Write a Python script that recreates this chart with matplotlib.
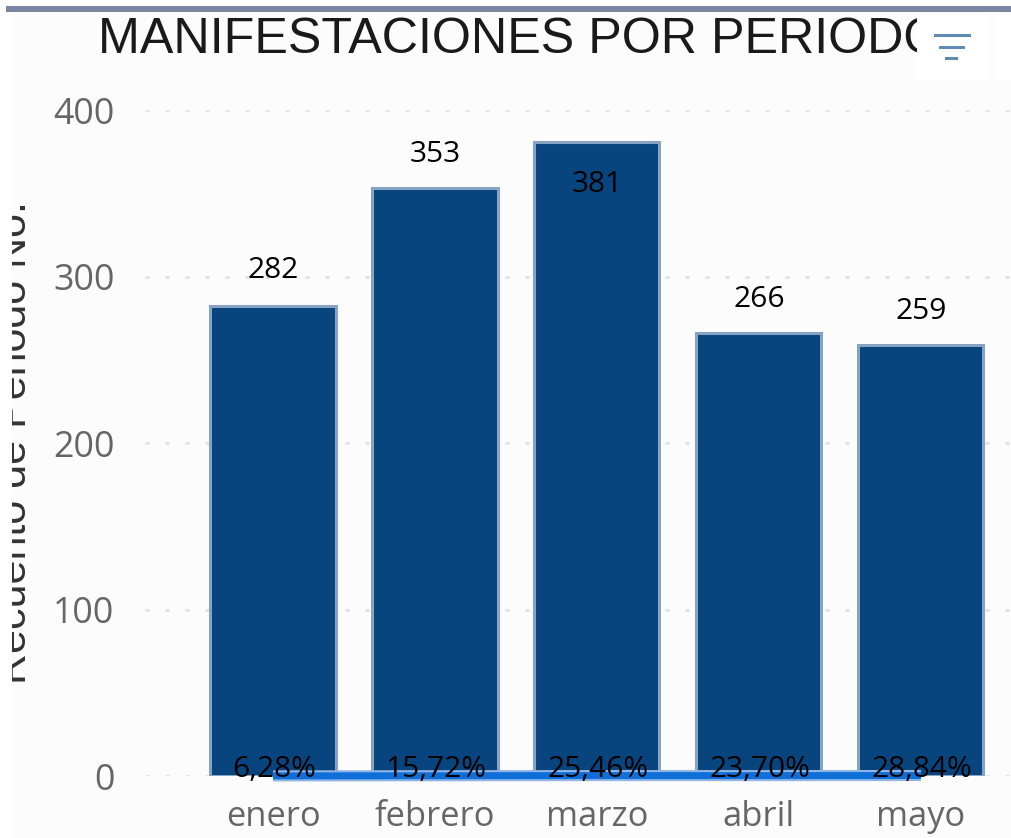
import numpy as np
import matplotlib
matplotlib.use("Agg")
from matplotlib import pyplot as plt
from matplotlib.patches import Rectangle

periodos = ["enero", "febrero", "marzo", "abril", "mayo"]
recuento = [282, 353, 381, 266, 259]
porcentajes = [6.28, 15.72, 25.46, 23.70, 28.84]
porcentaje_labels = ["6,28%", "15,72%", "25,46%", "23,70%", "28,84%"]
yticks = [0, 100, 200, 300, 400]

W, H = 1012, 838
BG = "#fcfcfc"

plt.rcParams['font.family'] = ['Liberation Sans', 'DejaVu Sans']

fig = plt.figure(figsize=(W / 100, H / 100), dpi=100, facecolor="white")

# panel background and top strip
fig.patches.append(Rectangle((12 / W, 0), 1 - 12 / W, 1 - 12 / H, transform=fig.transFigure, color=BG, lw=0, zorder=-5))
fig.patches.append(Rectangle((6 / W, 1 - 12 / H), 1 - 6 / W, 6 / H, transform=fig.transFigure, color="#7a86a3", lw=0, zorder=-4))

ax = fig.add_axes([145 / W, 1 - 776 / H, (W - 145) / W, 666 / H])
ax.patch.set_alpha(0)
x = np.arange(len(periodos))
ax.set_xlim(-0.79, 4.562)
ax.set_ylim(0, 400)

ax.bar(x, recuento, width=0.772, color="#08457e", edgecolor="#86a3c4", linewidth=2.2, zorder=2)
ax.yaxis.grid(True, color="#e2e2e2", linestyle=(0, (1.5, 5.7)), linewidth=2)
ax.set_axisbelow(True)

# porcentaje line sits almost on the baseline, light halo under it
ax.plot(x, np.array(porcentajes) / 100, color="#8fb4e6", linewidth=8, solid_capstyle="butt", zorder=3, clip_on=False)
ax.plot(x, np.array(porcentajes) / 100, color="#0f6fd8", linewidth=5, solid_capstyle="butt", zorder=3, clip_on=False)

for s in ax.spines.values():
    s.set_visible(False)
ax.set_xticks(x, periodos)
ax.set_yticks(yticks)
ax.tick_params(length=0)
ax.tick_params(axis="x", labelsize=24.8, labelcolor="#666666", pad=17)
ax.tick_params(axis="y", labelsize=25.8, labelcolor="#666666", pad=22)
for lab in ax.get_xticklabels() + ax.get_yticklabels():
    lab.set_family(['Open Sans', 'DejaVu Sans'])

offsets = [21, 19, -28, 19, 19]
for xi, v, off in zip(x, recuento, offsets):
    ax.annotate(str(v), (xi, v), xytext=(0, off), textcoords="offset pixels", ha="center", va="bottom" if off > 0 else "top",
                fontsize=21.5, color="black", family=['Open Sans', 'DejaVu Sans'], zorder=5)
for xi, lab in zip(x, porcentaje_labels):
    ax.annotate(lab, (xi, 0), xytext=(1, -8), textcoords="offset pixels", ha="center", va="bottom",
                fontsize=21.5, color="black", family=['Open Sans', 'DejaVu Sans'], zorder=5, annotation_clip=False)

# axis title is cut off by the left edge of the panel
ylab = fig.text(-5 / W, 1 - 443 / H, "Recuento de Periodo No.", rotation=90, ha="left", va="center",
                fontsize=31, color="#333333")
ylab.set_clip_path(Rectangle((12, 0), W, H, transform=None))
ylab.set_clip_on(True)

title = fig.text(98 / W, 1 - 40 / H, "MANIFESTACIONES POR PERIODO", ha="left", va="center", fontsize=36.2, color="#1a1a1a")
title.set_clip_path(Rectangle((0, 0), 917, H, transform=None))
title.set_clip_on(True)

# filter icon boxes in the header
fig.patches.append(Rectangle((917 / W, 1 - 80 / H), 69 / W, 65 / H, transform=fig.transFigure, color="white", lw=0, zorder=-3))
fig.patches.append(Rectangle((997 / W, 1 - 80 / H), 15 / W, 65 / H, transform=fig.transFigure, color="white", lw=0, zorder=-3))
for y0, x0, x1 in [(35, 935, 969), (47, 940, 963), (58, 946, 956)]:
    fig.add_artist(plt.Line2D([x0 / W, x1 / W], [1 - y0 / H] * 2, color="#5f8ab2", lw=2.2, transform=fig.transFigure))

fig.savefig("out.png", dpi=100, facecolor="white")
